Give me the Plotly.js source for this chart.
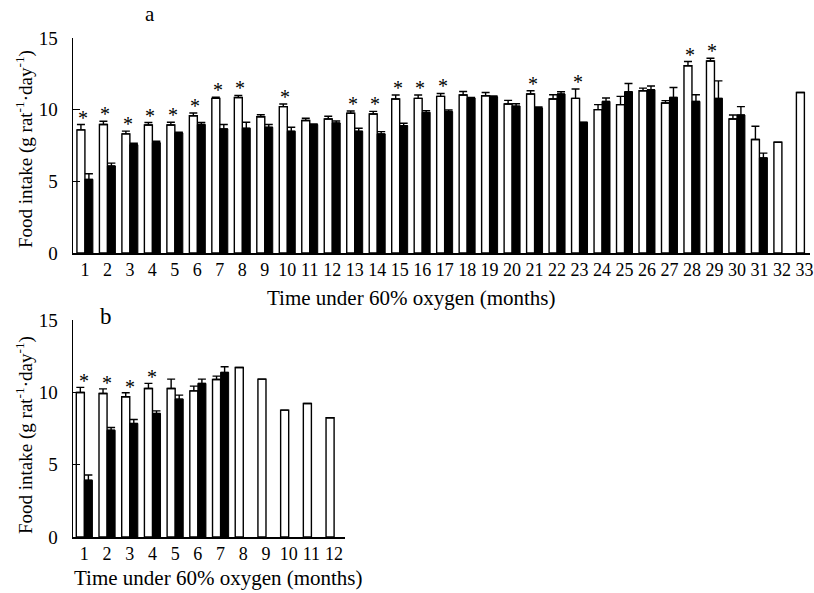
<!DOCTYPE html>
<html>
<head>
<meta charset="utf-8">
<script src="https://cdn.plot.ly/plotly-3.0.1.min.js"></script>
<style>html,body{margin:0;padding:0;background:#fff;}#chart{width:814px;height:593px;}</style>
</head>
<body>
<div id="chart"></div>
<script>
// ---- Panel a data (months 1-33) ----
const monthsA = [1,2,3,4,5,6,7,8,9,10,11,12,13,14,15,16,17,18,19,20,21,22,23,24,25,26,27,28,29,30,31,32,33];
const controlA = [8.59,8.96,8.31,8.93,8.93,9.58,10.79,10.85,9.51,10.21,9.24,9.35,9.75,9.70,10.74,10.79,10.93,11.02,10.97,10.40,11.09,10.74,10.79,10.00,10.35,11.32,10.46,13.06,13.40,9.35,7.92,7.73,11.20];
const controlErrA = [0.37,0.23,0.19,0.17,0.19,0.19,0.08,0.15,0.14,0.19,0.16,0.19,0.16,0.18,0.28,0.23,0.20,0.25,0.23,0.25,0.23,0.30,0.65,0.35,0.58,0.18,0.17,0.30,0.19,0.28,0.92,0,0];
const oxygenA = [5.14,6.07,7.55,7.69,8.38,8.96,8.66,8.70,8.77,8.49,8.96,9.07,8.49,8.31,8.89,9.81,9.86,10.81,10.90,10.25,10.12,11.09,9.12,10.58,11.25,11.39,10.86,10.58,10.79,9.63,6.64,null,null];
const oxygenErrA = [0.39,0.20,0.11,0.11,0.05,0.14,0.30,0.42,0.19,0.28,0.04,0.14,0.21,0.16,0.16,0.12,0.12,0.05,0.05,0.16,0.07,0.16,0,0.23,0.58,0.26,0.69,0.46,1.22,0.58,0.33,0,0];
const sigA = [1,2,3,4,5,6,7,8,10,13,14,15,16,17,21,23,28,29];

// ---- Panel b data (months 1-12) ----
const monthsB = [1,2,3,4,5,6,7,8,9,10,11,12];
const controlB = [9.99,9.92,9.69,10.27,10.27,10.10,10.89,11.72,10.91,8.77,9.23,8.24];
const controlErrB = [0.35,0.32,0.28,0.35,0.64,0.33,0.23,0,0,0,0,0];
const oxygenB = [3.92,7.38,7.85,8.54,9.53,10.62,11.38,null,null,null,null,null];
const oxygenErrB = [0.37,0.19,0.27,0.18,0.28,0.29,0.39,0,0,0,0,0];
const sigB = [1,2,3,4];

const yTitle = 'Food intake (g rat<sup>-1</sup>·day<sup>-1</sup>)';
const xTitle = 'Time under 60% oxygen (months)';
const FONT = 'Liberation Serif, Times New Roman, serif';

function errSpec(arr){
  return {type:'data', symmetric:false, array:arr, arrayminus:arr.map(()=>0),
          color:'#000', thickness:1.4, width:4};
}

const traces = [
  {type:'bar', x:monthsA, y:controlA, xaxis:'x', yaxis:'y', name:'control',
   marker:{color:'#fff', line:{color:'#000', width:1.4}}, error_y:errSpec(controlErrA)},
  {type:'bar', x:monthsA, y:oxygenA, xaxis:'x', yaxis:'y', name:'oxygen',
   marker:{color:'#000', line:{color:'#000', width:1}}, error_y:errSpec(oxygenErrA)},
  {type:'bar', x:monthsB, y:controlB, xaxis:'x2', yaxis:'y2', name:'control',
   marker:{color:'#fff', line:{color:'#000', width:1.4}}, error_y:errSpec(controlErrB)},
  {type:'bar', x:monthsB, y:oxygenB, xaxis:'x2', yaxis:'y2', name:'oxygen',
   marker:{color:'#000', line:{color:'#000', width:1}}, error_y:errSpec(oxygenErrB)}
];

const annotations = [];
sigA.forEach(m=>{
  const i = monthsA.indexOf(m);
  annotations.push({xref:'x', yref:'y', x:m, y:controlA[i]+controlErrA[i], text:'*', showarrow:false,
    xanchor:'center', xshift:-2, yshift:-6, yanchor:'bottom', font:{family:FONT, size:20, color:'#000'}});
});
sigB.forEach(m=>{
  const i = monthsB.indexOf(m);
  annotations.push({xref:'x2', yref:'y2', x:m, y:controlB[i]+controlErrB[i], text:'*', showarrow:false,
    xanchor:'center', xshift:0, yshift:-7, yanchor:'bottom', font:{family:FONT, size:20, color:'#000'}});
});
function label(x, y, text, size, angle){
  return {xref:'paper', yref:'paper', x:x/814, y:(593-y)/593, text:text, showarrow:false,
    xanchor:'center', yanchor:'middle', textangle:angle||0, font:{family:FONT, size:size, color:'#000'}};
}
// titles & panel labels (positions in pixels)
annotations.push(label(411, 298, xTitle, 21));
annotations.push(label(218, 578, xTitle, 21));
annotations.push(label(24, 149, yTitle, 19, -90));
annotations.push(label(24, 435, yTitle, 19, -90));
annotations.push(label(150, 14, 'a', 21));
annotations.push(label(106, 316, 'b', 23));

const xBase = {showline:true, linecolor:'#000', linewidth:1.5, ticks:'', showgrid:false, zeroline:false,
  tickmode:'linear', dtick:1, tickfont:{family:FONT, size:18, color:'#000'}, fixedrange:true};
const yBase = {showline:true, linecolor:'#000', linewidth:1.5, ticks:'inside', ticklen:7, tickwidth:1.2,
  tickcolor:'#000', showgrid:false, zeroline:false, range:[0,15], tickvals:[0,5,10,15],
  ticklabelstandoff:10, tickfont:{family:FONT, size:19, color:'#000'}, fixedrange:true};

const layout = {
  width:814, height:593, autosize:false,
  margin:{l:0, r:0, t:0, b:0},
  paper_bgcolor:'#fff', plot_bgcolor:'#fff',
  showlegend:false, barmode:'group', bargap:0.29, bargroupgap:0,
  xaxis:Object.assign({}, xBase, {domain:[73/814, 810/814], range:[0.47, 33.25], anchor:'y', tick0:1}),
  yaxis:Object.assign({}, yBase, {domain:[(593-253)/593, (593-38)/593], anchor:'x'}),
  xaxis2:Object.assign({}, xBase, {domain:[73/814, 345/814], range:[0.5, 12.48], anchor:'y2', tick0:1}),
  yaxis2:Object.assign({}, yBase, {domain:[(593-537)/593, (593-320)/593], anchor:'x2'}),
  annotations:annotations
};

Plotly.newPlot('chart', traces, layout, {displayModeBar:false, staticPlot:true});
</script>
</body>
</html>
